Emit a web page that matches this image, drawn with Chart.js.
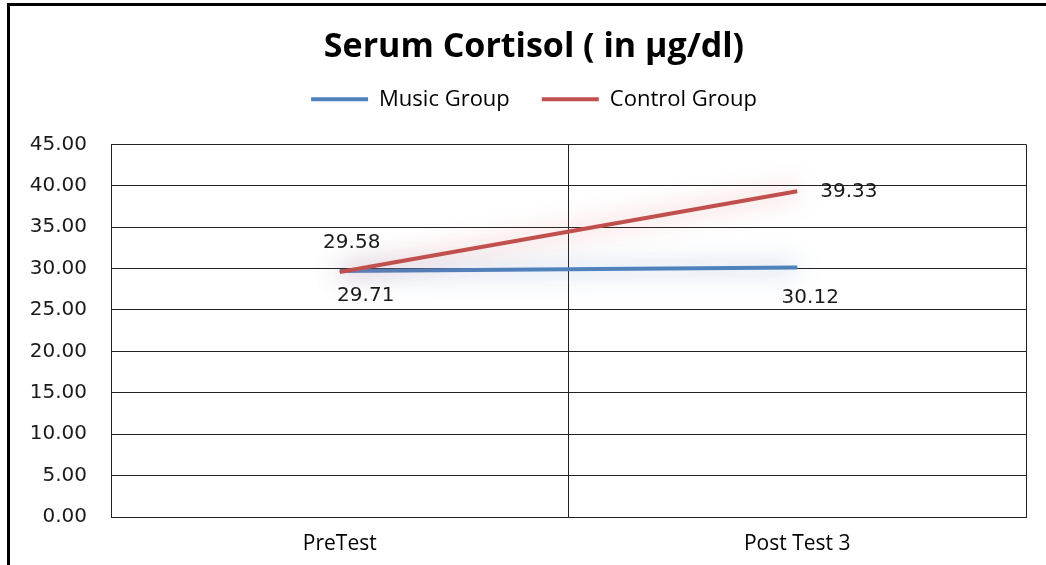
<!DOCTYPE html>
<html>
<head>
<meta charset="utf-8">
<script src="https://cdn.jsdelivr.net/npm/chart.js@4"></script>
<style>
  html, body { margin: 0; padding: 0; background: #fff; }
  #wrap { width: 1046px; height: 565px; position: relative; }
</style>
</head>
<body>
<div id="wrap"><canvas id="c" width="1046" height="565"></canvas></div>
<script>
const categories = ['PreTest', 'Post Test 3'];
const musicGroup = [29.71, 30.12];
const controlGroup = [29.58, 39.33];
const seriesNames = ['Music Group', 'Control Group'];
const yTicksMin = 0, yTicksMax = 45, yTickStep = 5;

const BLUE = '#4F81BD', RED = '#C0504D';

// label offsets (dx, dy from point, alignment) per dataset / point
const labelPlacement = [
  [{dx: 26, dy: 25, align: 'center'}, {dx: 13, dy: 30, align: 'center'}],
  [{dx: 12, dy: -29, align: 'center'}, {dx: 23, dy: 1, align: 'left'}]
];

const framePlugin = {
  id: 'frame',
  beforeDraw(chart) {
    const ctx = chart.ctx;
    ctx.save();
    ctx.fillStyle = '#fff';
    ctx.fillRect(0, 0, chart.width, chart.height);
    ctx.fillStyle = '#000';
    ctx.fillRect(7, 3, chart.width - 7, 3);
    ctx.fillRect(7, 3, 3, chart.height - 3);
    ctx.restore();
  }
};

// shift the header (title + legend) a little to the right, as in the reference
const headerShiftPlugin = {
  id: 'headerShift',
  afterLayout(chart) {
    const dx = 21;
    [chart.titleBlock, chart.legend].forEach(b => {
      if (b) { b.left += dx; b.right += dx; }
    });
  }
};

const glowPlugin = {
  id: 'glow',
  beforeDatasetDraw(chart, args) {
    const ctx = chart.ctx;
    ctx.save();
    ctx.shadowColor = args.index === 0 ? 'rgba(79,129,189,0.75)' : 'rgba(225,90,90,0.65)';
    ctx.shadowBlur = 24;
  },
  afterDatasetDraw(chart) {
    chart.ctx.restore();
  }
};

const dataLabelPlugin = {
  id: 'dataLabels',
  afterDatasetsDraw(chart) {
    const ctx = chart.ctx;
    ctx.save();
    ctx.font = '20px "DejaVu Sans"';
    ctx.fillStyle = '#1a1a1a';
    ctx.textBaseline = 'middle';
    chart.data.datasets.forEach((ds, di) => {
      const meta = chart.getDatasetMeta(di);
      meta.data.forEach((pt, i) => {
        const p = labelPlacement[di][i];
        ctx.textAlign = p.align;
        ctx.fillText(ds.data[i].toFixed(2), pt.x + p.dx, pt.y + p.dy);
      });
    });
    ctx.restore();
  }
};

new Chart(document.getElementById('c'), {
  type: 'line',
  data: {
    labels: categories,
    datasets: [
      { label: seriesNames[0], data: musicGroup, borderColor: BLUE, backgroundColor: BLUE,
        borderWidth: 4, pointRadius: 0, pointHoverRadius: 0, order: 1, tension: 0 },
      { label: seriesNames[1], data: controlGroup, borderColor: RED, backgroundColor: RED,
        borderWidth: 4, pointRadius: 0, pointHoverRadius: 0, order: 0, tension: 0 }
    ]
  },
  options: {
    responsive: false,
    animation: false,
    events: [],
    layout: { padding: { left: 0, right: 20, top: 0, bottom: 0 } },
    plugins: {
      title: {
        display: true,
        text: 'Serum Cortisol ( in µg/dl)',
        color: '#000',
        font: { family: 'Open Sans', size: 34, weight: 'bold', lineHeight: 1.2 },
        padding: { top: 26.5, bottom: -11 }
      },
      subtitle: {
        display: true,
        text: ' ',
        weight: 500,
        font: { size: 10, lineHeight: 1 },
        padding: { top: 14, bottom: 0 }
      },
      legend: {
        display: true,
        labels: {
          usePointStyle: true,
          pointStyle: 'line',
          pointStyleWidth: 57,
          color: '#000',
          font: { family: 'Open Sans', size: 22 },
          padding: 32,
          sort: (a, b) => a.datasetIndex - b.datasetIndex
        }
      },
      tooltip: { enabled: false }
    },
    scales: {
      x: {
        offset: true,
        grid: { display: true, offset: true, color: '#222', lineWidth: 1, drawTicks: false },
        border: { display: true, color: '#222' },
        ticks: { color: '#000', font: { family: 'Open Sans', size: 21 }, padding: 14, maxRotation: 0 },
        afterFit(scale) { scale.height = 48; }
      },
      y: {
        min: yTicksMin, max: yTicksMax,
        grid: { color: '#222', lineWidth: 1, drawTicks: false },
        border: { display: true, color: '#222' },
        ticks: {
          stepSize: yTickStep,
          color: '#1a1a1a',
          font: { family: 'DejaVu Sans', size: 20 },
          padding: 24,
          callback: v => Number(v).toFixed(2)
        },
        afterFit(scale) { scale.width = 111; }
      }
    }
  },
  plugins: [framePlugin, headerShiftPlugin, glowPlugin, dataLabelPlugin]
});
</script>
</body>
</html>
